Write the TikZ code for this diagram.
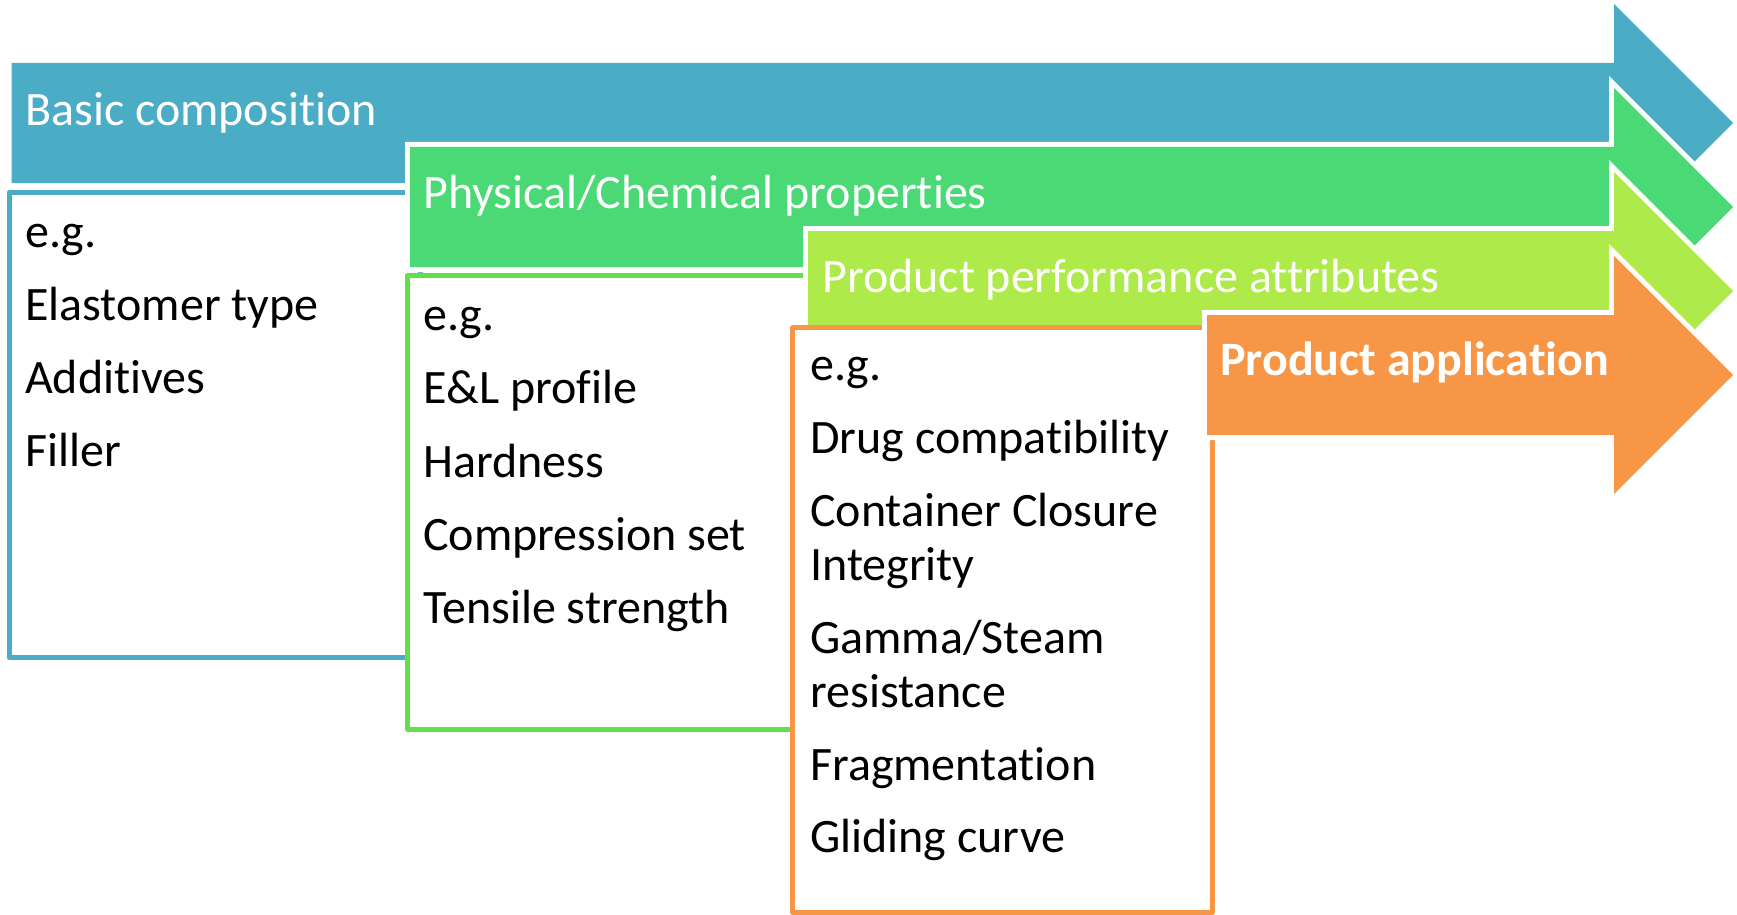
\documentclass[tikz,border=0pt]{standalone}
\usepackage{fontspec}
\setmainfont{Carlito}[Ligatures={NoCommon,NoContextual}]
\definecolor{cblue}{HTML}{4BACC6}
\definecolor{cgreen}{HTML}{4AD975}
\definecolor{cgreenline}{HTML}{62E04A}
\definecolor{clime}{HTML}{AEEA4A}
\definecolor{corange}{HTML}{F79646}
\newcommand\bigarrow[3]{%
  \path[draw=white, line width=10pt, fill=#3]
    (#1,#2) -- (1614,#2) -- (1614,{#2-59}) -- (1733,{#2+60}) -- (1614,{#2+179}) -- (1614,{#2+120}) -- (#1,{#2+120}) -- cycle;
  \fill[#3]
    (#1,#2) -- (1614,#2) -- (1614,{#2-59}) -- (1733,{#2+60}) -- (1614,{#2+179}) -- (1614,{#2+120}) -- (#1,{#2+120}) -- cycle;
}
\begin{document}
\begin{tikzpicture}[x=1pt,y=-1pt,
  hdr/.style={anchor=base west, inner sep=0pt, text=white, font=\fontsize{48}{57}\selectfont},
  body/.style={anchor=base west, inner sep=0pt, text=black, font=\fontsize{48}{57}\selectfont},
  boxline/.style={line width=5pt, fill=white, line join=round}]
\useasboundingbox (0,0) rectangle (1737,915);
% layers
\bigarrow{11.5}{63}{cblue}
\draw[boxline, draw=cblue] (9,192.5) rectangle (420,657.5);
\bigarrow{410}{147}{cgreen}
\draw[boxline, draw=cgreenline] (407.5,275.5) rectangle (815,729.5);
\bigarrow{808}{231}{clime}
\draw[boxline, draw=corange] (792.5,327.5) rectangle (1212.5,912.5);
\bigarrow{1207}{315}{corange}
% headers
\node[hdr] (hA) at (25,125) {Basic composition};
\node[hdr] (hB) at (423,208) {Physical/Chemical properties};
\node[hdr] (hC) at (822,292) {Product performance attributes};
\node[hdr, font=\fontsize{48}{57}\selectfont\bfseries] (hD) at (1220,375) {Product application};
% blue box
\node[body] (a1) at (25,247) {e.g.};
\node[body] (a2) at (25,320) {Elastomer type};
\node[body] (a3) at (25,393) {Additives};
\node[body] (a4) at (25,466) {Filler};
% green box
\node[body] (b1) at (423,330) {e.g.};
\node[body] (b2) at (423,403.5) {E\&L profile};
\node[body] (b3) at (423,477) {Hardness};
\node[body] (b4) at (423,550) {Compression set};
\node[body] (b5) at (423,623) {Tensile strength};
% orange box
\node[body] (c1) at (810,380) {e.g.};
\node[body] (c2) at (810,453) {Drug compatibility};
\node[body] (c3) at (810,526) {Container Closure};
\node[body] (c4) at (810,580) {Integrity};
\node[body] (c5) at (810,653) {Gamma/Steam};
\node[body] (c6) at (810,707) {resistance};
\node[body] (c7) at (810,780) {Fragmentation};
\node[body] (c8) at (810,852) {Gliding curve};
\end{tikzpicture}
\end{document}
